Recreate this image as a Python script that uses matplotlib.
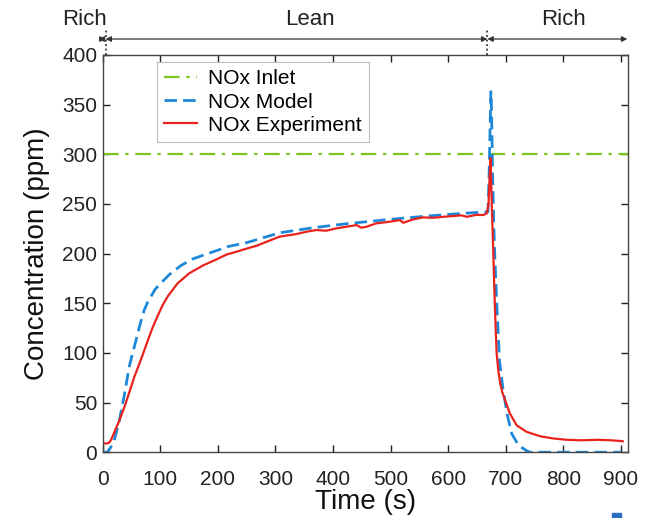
import matplotlib
matplotlib.use('Agg')
import matplotlib.pyplot as plt
from matplotlib.patches import Rectangle

plt.rcParams['font.family'] = ['Liberation Sans', 'DejaVu Sans']

# NOx inlet (constant feed)
inlet_t = [0, 912]
inlet_v = [300, 300]

# NOx model
model_t = [0, 8, 14, 20, 29, 38, 46, 52, 58, 65, 72, 78, 84, 91, 99, 116, 136, 156, 180, 203,
           217, 250, 308, 343, 365, 423, 500, 568, 626, 667, 669, 671, 674, 675, 677, 679, 681,
           684, 689, 695, 702, 710, 722, 736, 742, 800, 900]
model_v = [0, 0, 5, 12, 32, 59, 86, 100, 113, 129, 143, 151, 157, 164, 169, 179, 188, 194.5, 199.5,
           204, 207, 211, 221, 224, 226, 230, 234.5, 238, 240.5, 242, 242, 280, 363, 350, 280, 230,
           195, 153, 92, 64, 39, 19, 7, 1.5, 0, 0, 0]

# NOx experiment
exp_t = [2, 6, 11, 15, 23, 29, 38, 46, 55, 63, 70, 78, 87, 96, 104, 113, 130, 150, 174, 197,
         215, 233, 250, 268, 285, 307, 336, 354, 371, 388, 406, 423, 441, 449, 458, 475,
         498, 516, 522, 539, 556, 574, 591, 609, 623, 632, 649, 661, 667, 670, 672, 673.5, 676,
         678, 680, 682, 684, 687, 690, 694, 699, 707, 719, 736, 760, 783, 806, 830, 860, 882,
         895, 903]
exp_v = [9, 8.7, 9.5, 13, 24, 32, 46, 60, 76, 88, 99, 112, 126, 138, 148, 157, 170, 180, 188, 194,
         199, 202, 205, 208, 212, 217, 219.6, 222, 223.7, 223, 225.4, 227, 228.7, 226,
         227, 230.4, 232, 233.7, 231, 234.4, 236.4, 236, 237, 237.8, 238.5, 237, 239, 238.8,
         240.5, 250, 280, 296, 241, 205, 165, 130, 100, 82, 70, 60, 52, 39, 27, 20.5, 16, 13.8,
         12.5, 12, 12.5, 12, 11.5, 11]

# regime bars above the plot
phase_names = ['Rich', 'Lean', 'Rich']
phase_edges = [-7, 5, 668, 911]

fig = plt.figure(figsize=(6.46, 5.18), dpi=100)
ax = fig.add_axes([0.159, 0.127, 0.813, 0.767])

ax.plot(inlet_t, inlet_v, color='#7cc520', lw=1.6, dashes=(7, 3, 1.5, 3), label='NOx Inlet')
ax.plot(model_t, model_v, color='#1e88d8', lw=2.0, dashes=(4.5, 2.2), label='NOx Model')
ax.plot(exp_t, exp_v, color='#e8231e', lw=1.6, label='NOx Experiment')

ax.set_xlim(0, 912)
ax.set_ylim(0, 400)
ax.set_xticks(range(0, 901, 100))
ax.set_yticks(range(0, 401, 50))
ax.tick_params(direction='in', top=True, right=True, length=5, width=1, labelsize=15,
               colors='#222222')
ax.tick_params(axis='x', pad=12.5)
ax.tick_params(axis='y', pad=4)
for s in ax.spines.values():
    s.set_color('#444444')
    s.set_linewidth(1.0)
ax.set_xlabel('Time (s)', fontsize=20, labelpad=0, color='#111111')
ax.set_ylabel('Concentration (ppm)', fontsize=20, labelpad=9, color='#111111')

leg = ax.legend(loc='upper left', bbox_to_anchor=(0.103, 0.982), borderaxespad=0,
                fontsize=15, handlelength=1.6, handletextpad=0.5, labelspacing=0.2,
                fancybox=False, framealpha=1, edgecolor='#bbbbbb', borderpad=0.35)
leg.get_frame().set_linewidth(0.8)

# Rich / Lean arrows above the axes
tr = ax.get_xaxis_transform()
y_arrow = 1.04
for i, name in enumerate(phase_names):
    x0, x1 = phase_edges[i], phase_edges[i + 1]
    ax.annotate('', xy=(x1, y_arrow), xytext=(x0, y_arrow), xycoords=tr, textcoords=tr,
                arrowprops=dict(arrowstyle='<|-|>', color='#333333', lw=0.9,
                                mutation_scale=8, shrinkA=0, shrinkB=0),
                annotation_clip=False)
text_x = [-31, 360, 800]
for name, xt in zip(phase_names, text_x):
    ax.text(xt, 1.09, name, transform=tr, ha='center', va='center', fontsize=16,
            color='#222222', clip_on=False)
for xd in phase_edges[1:3]:
    ax.plot([xd, xd], [1.0, 1.062], transform=tr, color='#333333', lw=1.3,
            ls=(0, (1, 1.5)), clip_on=False)

fig.patches.append(Rectangle((612, 0), 9, 5, transform=None, color='#2a6fc0'))

fig.savefig('out.png', dpi=100)
